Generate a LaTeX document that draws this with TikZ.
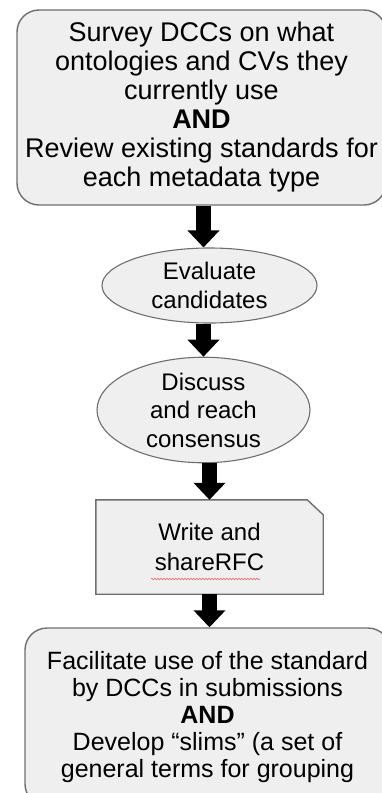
\documentclass[tikz,border=0pt]{standalone}
\usepackage{fontspec}
\setmainfont{Liberation Sans}
\usetikzlibrary{shapes.geometric,arrows.meta,decorations.pathmorphing,backgrounds}
\definecolor{boxfill}{HTML}{EFEFEF}
\definecolor{boxline}{HTML}{6E6E6E}
\definecolor{spellred}{HTML}{E06666}

\begin{document}
\begin{tikzpicture}
[
x=1pt, y=-1pt,
roundbox/.style={rectangle, rounded corners=22pt, draw=boxline, line width=1.4pt, fill=boxfill, align=center, inner sep=0},
ovalbox/.style={ellipse, draw=boxline, line width=1.1pt, fill=boxfill, align=center, inner sep=0, font=\fontsize{24}{28.5}\selectfont},
cutbox/.style={rectangle, align=center, inner sep=0, font=\fontsize{24}{30}\selectfont},
cutline/.style={draw=boxline, line width=1.4pt, fill=boxfill},
bigarrow/.style={line width=15pt, black, -{Triangle[width=31pt,length=17pt]}}
]
\useasboundingbox (0,0) rectangle (382,793);
\clip (0,0) rectangle (382,793);

%Nodes
\node[roundbox, minimum width=369pt, minimum height=195pt, font=\fontsize{27}{29}\selectfont] at(201.5,107.5)	(survey) {Survey DCCs on what\\ontologies and CVs they\\currently use\\\textbf{AND}\\Review existing standards for\\each metadata type};
\node[ovalbox, minimum width=215pt, minimum height=75pt] at(209.5,285.5)	(evaluate) {Evaluate\\candidates};
\node[ovalbox, minimum width=213pt, minimum height=100pt] at(203.5,410)	(discuss) {Discuss\\and reach\\consensus};
\node[cutbox, minimum width=227pt, minimum height=94pt] at(209.5,547)	(write) {Write and\\shareRFC};
\node[roundbox, minimum width=365pt, minimum height=178pt, font=\fontsize{25}{27}\selectfont] at(207.5,717)	(facilitate) {Facilitate use of the standard\\by DCCs in submissions\\\textbf{AND}\\Develop “slims” (a set of\\general terms for grouping};

%Cut corner box
\begin{scope}[on background layer]
\draw[cutline] (write.south west) -- (write.north west) -- ([xshift=-16pt]write.north east) -- ([yshift=-15pt]write.north east) -- (write.south east) -- cycle;
\end{scope}

%Spelling mark
\draw[spellred, line width=0.6pt, decorate, decoration={snake, amplitude=0.8pt, segment length=3pt}] (151,579) -- (260,579);

%Arrows
\draw[bigarrow] (survey.south -| discuss) -- (evaluate.north -| discuss);
\draw[bigarrow] (evaluate.south -| discuss) -- (discuss.north);
\draw[bigarrow] (discuss.south -| write) -- (write.north);
\draw[bigarrow] (write.south) -- (facilitate.north -| write);

\end{tikzpicture}
\end{document}
